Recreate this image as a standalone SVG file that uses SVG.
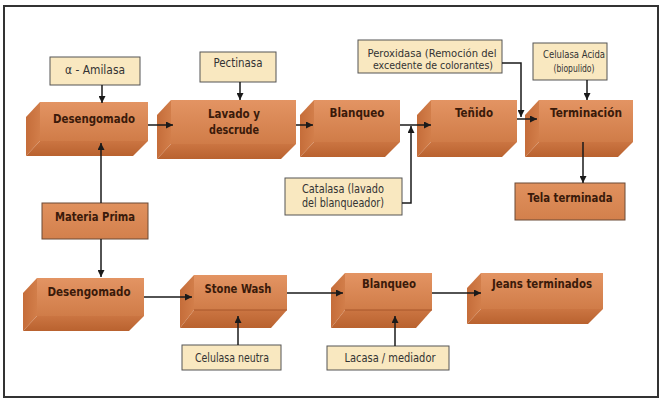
<svg xmlns="http://www.w3.org/2000/svg" width="666" height="409" viewBox="0 0 666 409">
<defs>
<linearGradient id="gFront" x1="0" y1="0" x2="0" y2="1">
<stop offset="0" stop-color="#E39463"/><stop offset="1" stop-color="#D07C48"/>
</linearGradient>
<linearGradient id="gSide" x1="0" y1="0" x2="1" y2="0">
<stop offset="0" stop-color="#C56D3A"/><stop offset="1" stop-color="#D27E4A"/>
</linearGradient>
<linearGradient id="gBot" x1="0" y1="0" x2="0" y2="1">
<stop offset="0" stop-color="#CB7542"/><stop offset="1" stop-color="#B9622F"/>
</linearGradient>
<linearGradient id="gFlat" x1="0" y1="0" x2="0" y2="1">
<stop offset="0" stop-color="#E0915E"/><stop offset="1" stop-color="#D3804C"/>
</linearGradient>
<marker id="ah" viewBox="0 0 10 10" refX="10" refY="5" markerWidth="7" markerHeight="7" markerUnits="userSpaceOnUse" orient="auto">
<path d="M0,0 L10,5 L0,10 Z" fill="#1a1a1a"/>
</marker>
</defs>
<style>
.frame{fill:#fff;stroke:#333;stroke-width:2}
.enz{fill:#F9E8C0;stroke:#555;stroke-width:1}
.flat{fill:url(#gFlat);stroke:#6b4a36;stroke-width:1}
.front{fill:url(#gFront)}
.side{fill:url(#gSide)}
.bot{fill:url(#gBot)}
.bt{font-family:'Liberation Sans Narrow','DejaVu Sans Condensed','Liberation Sans',sans-serif;font-weight:bold;font-size:13px;fill:#3A1A0A;text-anchor:middle}
.rt{font-family:'Liberation Sans Narrow','DejaVu Sans Condensed','Liberation Sans',sans-serif;font-size:12px;fill:#333;text-anchor:middle}
.rs{font-size:11px}
.ln{fill:none;stroke:#1a1a1a;stroke-width:1.5;marker-end:url(#ah)}
</style>
<rect class="frame" x="4" y="6" width="654" height="391"/>

<g id="desengomado1">
<polygon class="front" points="40,102 148,102 148,141 40,141"/>
<polygon class="side" points="26,117 40,102 40,141 26,156"/>
<polygon class="bot" points="40,141 148,141 133,156 26,156"/>
<text class="bt" x="94" y="123" textLength="82" lengthAdjust="spacingAndGlyphs">Desengomado</text>
</g>
<g id="lavado">
<polygon class="front" points="171,100 296,100 296,144 171,144"/>
<polygon class="side" points="157,115 171,100 171,144 157,159"/>
<polygon class="bot" points="171,144 296,144 281,159 157,159"/>
<text class="bt" x="234" y="118" textLength="52" lengthAdjust="spacingAndGlyphs">Lavado y</text>
<text class="bt" x="234" y="134" textLength="50" lengthAdjust="spacingAndGlyphs">descrude</text>
</g>
<g id="blanqueo1">
<polygon class="front" points="314,100 400,100 400,142 314,142"/>
<polygon class="side" points="300,115 314,100 314,142 300,157"/>
<polygon class="bot" points="314,142 400,142 385,157 300,157"/>
<text class="bt" x="357" y="117" textLength="55" lengthAdjust="spacingAndGlyphs">Blanqueo</text>
</g>
<g id="tenido">
<polygon class="front" points="431,100 517,100 517,142 431,142"/>
<polygon class="side" points="417,115 431,100 431,142 417,157"/>
<polygon class="bot" points="431,142 517,142 502,157 417,157"/>
<text class="bt" x="474" y="117" textLength="38" lengthAdjust="spacingAndGlyphs">Teñido</text>
</g>
<g id="terminacion">
<polygon class="front" points="539,100 633,100 633,142 539,142"/>
<polygon class="side" points="525,115 539,100 539,142 525,157"/>
<polygon class="bot" points="539,142 633,142 618,157 525,157"/>
<text class="bt" x="586" y="117" textLength="72" lengthAdjust="spacingAndGlyphs">Terminación</text>
</g>

<g id="desengomado2">
<polygon class="front" points="37,278 144,278 144,316 37,316"/>
<polygon class="side" points="23,293 37,278 37,316 23,331"/>
<polygon class="bot" points="37,316 144,316 129,331 23,331"/>
<text class="bt" x="89" y="296" textLength="83" lengthAdjust="spacingAndGlyphs">Desengomado</text>
</g>
<g id="stonewash">
<polygon class="front" points="194,275 287,275 287,310 194,310"/>
<polygon class="side" points="180,290 194,275 194,310 180,328"/>
<polygon class="bot" points="194,310 287,310 271,328 180,328"/>
<line x1="194" y1="310" x2="287" y2="310" stroke="#A8562A" stroke-width="1"/>
<text class="bt" x="238" y="293" textLength="67" lengthAdjust="spacingAndGlyphs">Stone Wash</text>
</g>
<g id="blanqueo2">
<polygon class="front" points="345,273 432,273 432,310 345,310"/>
<polygon class="side" points="331,288 345,273 345,310 331,328"/>
<polygon class="bot" points="345,310 432,310 416,328 331,328"/>
<line x1="345" y1="310" x2="432" y2="310" stroke="#A8562A" stroke-width="1"/>
<text class="bt" x="389" y="288" textLength="54" lengthAdjust="spacingAndGlyphs">Blanqueo</text>
</g>
<g id="jeans">
<polygon class="front" points="481,273 603,273 603,309 481,309"/>
<polygon class="side" points="467,288 481,273 481,309 467,324"/>
<polygon class="bot" points="481,309 603,309 588,324 467,324"/>
<text class="bt" x="542" y="288" textLength="100" lengthAdjust="spacingAndGlyphs">Jeans terminados</text>
</g>

<g id="materia-prima">
<rect class="flat" x="42" y="203" width="106" height="36"/>
<text class="bt" x="95" y="221" textLength="80" lengthAdjust="spacingAndGlyphs">Materia Prima</text>
</g>
<g id="tela-terminada">
<rect class="flat" x="515" y="183" width="110" height="37"/>
<text class="bt" x="570" y="202" textLength="85" lengthAdjust="spacingAndGlyphs">Tela terminada</text>
</g>

<g id="amilasa">
<rect class="enz" x="50" y="57" width="90" height="28"/>
<text class="rt" x="95" y="74" textLength="60" lengthAdjust="spacingAndGlyphs">α - Amilasa</text>
</g>
<g id="pectinasa">
<rect class="enz" x="200" y="52" width="76" height="30"/>
<text class="rt" x="238" y="67" textLength="49" lengthAdjust="spacingAndGlyphs">Pectinasa</text>
</g>
<g id="peroxidasa">
<rect class="enz" x="358" y="40" width="144" height="33"/>
<text class="rt rs" x="432" y="57" textLength="129" lengthAdjust="spacingAndGlyphs">Peroxidasa (Remoción del</text>
<text class="rt rs" x="433" y="69" textLength="120" lengthAdjust="spacingAndGlyphs">excedente de colorantes)</text>
</g>
<g id="celulasa-acida">
<rect class="enz" x="533" y="43" width="74" height="37"/>
<text class="rt rs" x="574" y="58" textLength="62" lengthAdjust="spacingAndGlyphs">Celulasa Acida</text>
<text class="rt rs" x="574" y="72" textLength="41" lengthAdjust="spacingAndGlyphs">(biopulido)</text>
</g>
<g id="catalasa">
<rect class="enz" x="285" y="178" width="117" height="37"/>
<text class="rt" x="343" y="193" textLength="82" lengthAdjust="spacingAndGlyphs">Catalasa (lavado</text>
<text class="rt" x="343" y="207" textLength="82" lengthAdjust="spacingAndGlyphs">del blanqueador)</text>
</g>
<g id="celulasa-neutra">
<rect class="enz" x="182" y="345" width="99" height="25"/>
<text class="rt" x="232" y="362" textLength="74" lengthAdjust="spacingAndGlyphs">Celulasa neutra</text>
</g>
<g id="lacasa">
<rect class="enz" x="327" y="346" width="122" height="24"/>
<text class="rt" x="390" y="362" textLength="91" lengthAdjust="spacingAndGlyphs">Lacasa / mediador</text>
</g>

<g id="connectors">
<path class="ln" d="M102,85 V103"/>
<path class="ln" d="M240,82 V100"/>
<path class="ln" d="M148,125 H173"/>
<path class="ln" d="M296,125 H313"/>
<path class="ln" d="M400,125 H431"/>
<path class="ln" d="M402,203 H411 V126"/>
<path class="ln" d="M517,119 H537"/>
<path class="ln" d="M502,63 H521 V117"/>
<path class="ln" d="M587,80 V100"/>
<path class="ln" d="M583,142 V183"/>
<path class="ln" d="M101,203 V143"/>
<path class="ln" d="M101,239 V277"/>
<path class="ln" d="M144,297 H192"/>
<path class="ln" d="M287,293 H343"/>
<path class="ln" d="M432,293 H481"/>
<path class="ln" d="M238,345 V316"/>
<path class="ln" d="M395,346 V316"/>
</g>
</svg>
